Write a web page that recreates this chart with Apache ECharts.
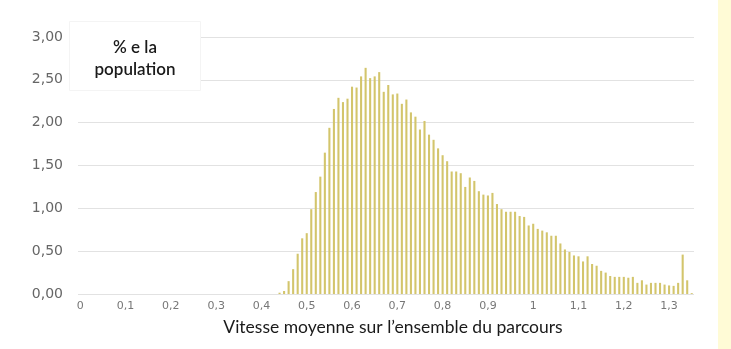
<!DOCTYPE html>
<html>
<head>
<meta charset="utf-8">
<script src="https://cdn.jsdelivr.net/npm/echarts@6/dist/echarts.min.js"></script>
<style>
  html, body { margin: 0; padding: 0; background: #fff; }
  #chart { width: 731px; height: 349px; }
</style>
</head>
<body>
<div id="chart"></div>
<script>
// Average speed classes (0.00 to 1.35, step 0.01)
const speeds = [
  '0.00','0.01','0.02','0.03','0.04','0.05','0.06','0.07','0.08','0.09',
  '0.10','0.11','0.12','0.13','0.14','0.15','0.16','0.17','0.18','0.19',
  '0.20','0.21','0.22','0.23','0.24','0.25','0.26','0.27','0.28','0.29',
  '0.30','0.31','0.32','0.33','0.34','0.35','0.36','0.37','0.38','0.39',
  '0.40','0.41','0.42','0.43','0.44','0.45','0.46','0.47','0.48','0.49',
  '0.50','0.51','0.52','0.53','0.54','0.55','0.56','0.57','0.58','0.59',
  '0.60','0.61','0.62','0.63','0.64','0.65','0.66','0.67','0.68','0.69',
  '0.70','0.71','0.72','0.73','0.74','0.75','0.76','0.77','0.78','0.79',
  '0.80','0.81','0.82','0.83','0.84','0.85','0.86','0.87','0.88','0.89',
  '0.90','0.91','0.92','0.93','0.94','0.95','0.96','0.97','0.98','0.99',
  '1.00','1.01','1.02','1.03','1.04','1.05','1.06','1.07','1.08','1.09',
  '1.10','1.11','1.12','1.13','1.14','1.15','1.16','1.17','1.18','1.19',
  '1.20','1.21','1.22','1.23','1.24','1.25','1.26','1.27','1.28','1.29',
  '1.30','1.31','1.32','1.33','1.34','1.35'
];

// Share of the population (%) in each speed class
const populationPct = [
  0,0,0,0,0,0,0,0,0,0,
  0,0,0,0,0,0,0,0,0,0,
  0,0,0,0,0,0,0,0,0,0,
  0,0,0,0,0,0,0,0,0,0,
  0,0,0,0,0.015,0.035,0.15,0.29,0.47,0.65,
  0.71,0.99,1.19,1.37,1.65,1.94,2.16,2.29,2.24,2.28,
  2.42,2.41,2.54,2.64,2.52,2.54,2.59,2.36,2.44,2.33,
  2.34,2.22,2.27,2.12,2.07,1.92,2.02,1.86,1.80,1.70,
  1.62,1.55,1.43,1.43,1.41,1.25,1.36,1.32,1.20,1.16,
  1.15,1.18,1.05,0.99,0.96,0.96,0.96,0.91,0.90,0.80,
  0.82,0.76,0.74,0.72,0.68,0.68,0.59,0.52,0.49,0.45,
  0.44,0.38,0.44,0.35,0.33,0.27,0.25,0.21,0.20,0.20,
  0.20,0.19,0.20,0.13,0.16,0.11,0.13,0.13,0.13,0.11,
  0.10,0.095,0.13,0.46,0.16,0.01
];

// Labels shown every tenth class on the horizontal axis
const xTickLabels = ['0','0,1','0,2','0,3','0,4','0,5','0,6','0,7','0,8','0,9','1','1,1','1,2','1,3'];

// Vertical axis scale
const yMin = 0, yMax = 3, yStep = 0.5;

const tickFont = '"DejaVu Sans", sans-serif';
const titleFont = 'Lato, "Open Sans", sans-serif';
const chart = echarts.init(document.getElementById('chart'), null, { renderer: 'canvas' });

chart.setOption({
  animation: false,
  backgroundColor: '#ffffff',
  grid: { left: 78, right: 37, top: 37, bottom: 55, containLabel: false },
  graphic: [
    {
      type: 'rect',
      right: 0, top: 0,
      shape: { width: 13, height: 349 },
      style: { fill: '#fffbd6' },
      silent: true
    },
    {
      type: 'rect',
      left: 69, top: 21,
      z: 100,
      shape: { width: 131, height: 69 },
      style: { fill: '#ffffff', stroke: '#f4f4f4', lineWidth: 1 },
      silent: true
    },
    {
      type: 'text',
      x: 135, y: 37,
      z: 101,
      style: {
        text: '% e la\npopulation',
        fill: '#1a1a1a',
        font: '600 17px ' + titleFont,
        align: 'center',
        verticalAlign: 'top',
        lineHeight: 22
      },
      silent: true
    },
    {
      // horizontal axis title
      type: 'text',
      x: 393, y: 327,
      z: 101,
      style: {
        text: 'Vitesse moyenne sur l\u2019ensemble du parcours',
        fill: '#1a1a1a',
        font: '17.5px ' + titleFont,
        align: 'center',
        verticalAlign: 'middle'
      },
      silent: true
    }
  ],
  xAxis: {
    type: 'category',
    data: speeds,
    boundaryGap: true,
    axisLine: { show: false },
    axisTick: { show: false },
    axisLabel: {
      interval: 9,
      margin: 7,
      color: '#777',
      fontSize: 11,
      fontFamily: tickFont,
      formatter: (v, i) => xTickLabels[i / 10] ?? ''
    },
    splitLine: { show: false }
  },
  yAxis: {
    type: 'value',
    min: yMin, max: yMax, interval: yStep,
    axisLine: { show: false },
    axisTick: { show: false },
    axisLabel: {
      margin: 15,
      color: '#666',
      fontSize: 14,
      fontFamily: tickFont,
      formatter: v => v.toFixed(2).replace('.', ',')
    },
    splitLine: { lineStyle: { color: '#e2e2e2', width: 1 } }
  },
  series: [{
    type: 'bar',
    data: populationPct,
    barWidth: '46%',
    itemStyle: { color: '#d3c56c' }
  }]
});
</script>
</body>
</html>
